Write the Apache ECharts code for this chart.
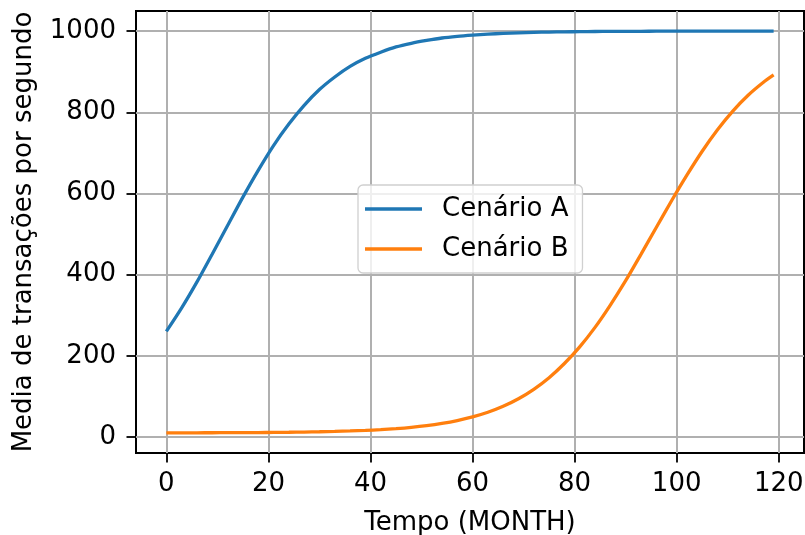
<!DOCTYPE html>
<html><head><meta charset="utf-8">
<script src="https://cdn.jsdelivr.net/npm/echarts@6/dist/echarts.min.js"></script>
<style>html,body{margin:0;padding:0;background:#fff}#c{width:805px;height:535px}</style>
</head><body><div id="c"></div>
<script>
const months = [0,3,6,9,12,15,18,21,24,27,30,33,36,39,42,45,48,51,54,57,60,63,66,69,72,75,78,81,84,87,90,93,96,99,102,105,108,111,114,117,119];
const cenarioA = [260,318,382,451,521,591,657,718,771,817,856,887,913,933,948,961,970,977,983,987,990,992.5,994.3,995.7,996.8,997.6,998.2,998.6,999,999.2,999.4,999.5,999.7,999.7,999.8,999.8,999.8,999.9,999.9,999.9,999.9];
const cenarioB = [10.2,10.3,10.3,10.4,10.6,10.7,10.9,11.2,11.6,12.1,12.8,13.7,14.8,16.2,18.1,20.6,23.8,28,33.5,40.5,49.5,61,75.7,94.3,117.5,146,181,222,270,325,385,450,516,582,645,704,757,803,842,874,892];
const xTicks = [0,20,40,60,80,100,120];
const yTicks = [0,200,400,600,800,1000];
const seriesNames = ['Cenário A','Cenário B'];
const FS = 26;
const font = 'DejaVu Sans';
const chart = echarts.init(document.getElementById('c'), null, {renderer:'canvas'});
const pair = arr => months.map((m,i)=>[m, arr[i]]);
chart.setOption({
  animation:false,
  grid:{left:136,right:1,top:11,bottom:82,containLabel:false,outerBoundsMode:'none',show:true,borderColor:'#000',borderWidth:2,backgroundColor:'transparent'},
  xAxis:{type:'value',min:-5.95,max:124.95,
    name:'Tempo (MONTH)',nameLocation:'middle',nameGap:57,
    nameTextStyle:{fontFamily:font,fontSize:FS,color:'#000'},
    axisLine:{show:false,onZero:false},
    axisTick:{show:true,length:9.5,lineStyle:{color:'#000',width:1.8},customValues:xTicks},
    axisLabel:{fontFamily:font,fontSize:FS,color:'#000',margin:18,customValues:xTicks,formatter:v=>String(v)},
    splitLine:{show:true,lineStyle:{color:'#b0b0b0',width:2}}
  },
  yAxis:{type:'value',min:-39.5,max:1049.5,
    name:'Media de transações por segundo',nameLocation:'middle',nameGap:99,nameRotate:90,
    nameTextStyle:{fontFamily:font,fontSize:FS,color:'#000'},
    axisLine:{show:false,onZero:false},
    axisTick:{show:true,length:9.5,lineStyle:{color:'#000',width:1.8},customValues:yTicks},
    axisLabel:{fontFamily:font,fontSize:FS,color:'#000',margin:20,customValues:yTicks,formatter:v=>String(v)},
    splitLine:{show:true,lineStyle:{color:'#b0b0b0',width:2}}
  },
  legend:{orient:'vertical',left:358,top:185,padding:[10,14,10,7],
    backgroundColor:'rgba(255,255,255,0.8)',borderColor:'#d0d0d0',borderWidth:1.3,borderRadius:5,
    icon:'rect',itemWidth:57,itemHeight:3.5,itemGap:12,
    textStyle:{fontFamily:font,fontSize:FS,color:'#000',padding:[0,0,0,15],lineHeight:28},
    data:seriesNames},
  series:[
    {name:seriesNames[0],type:'line',data:pair(cenarioA),showSymbol:false,smooth:0.25,
     lineStyle:{color:'#1f77b4',width:3.3},itemStyle:{color:'#1f77b4'}},
    {name:seriesNames[1],type:'line',data:pair(cenarioB),showSymbol:false,smooth:0.25,
     lineStyle:{color:'#ff7f0e',width:3.3},itemStyle:{color:'#ff7f0e'}}
  ]
});
</script></body></html>
